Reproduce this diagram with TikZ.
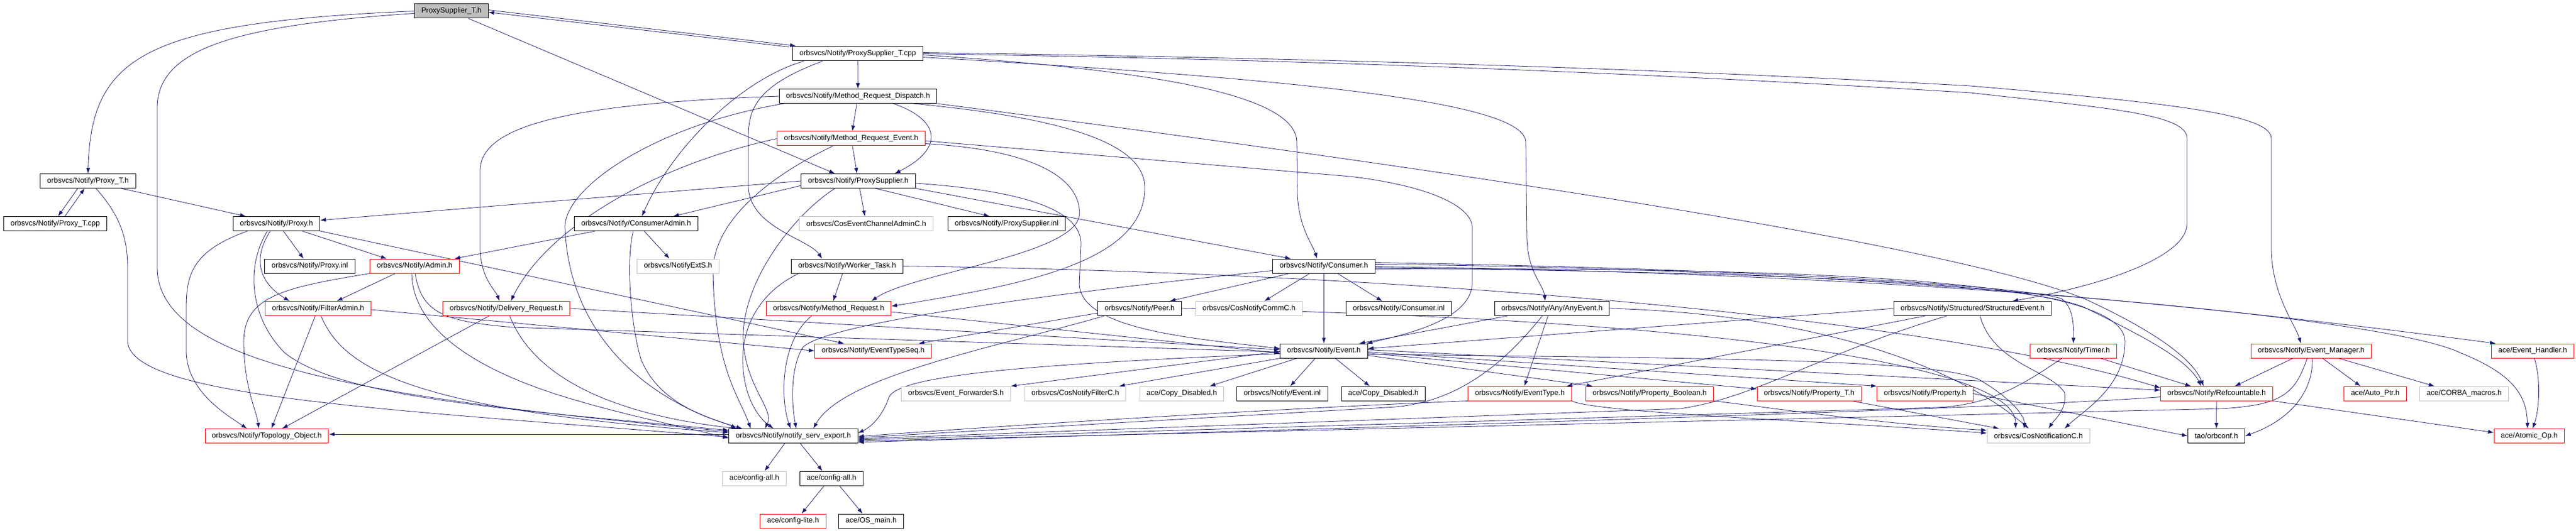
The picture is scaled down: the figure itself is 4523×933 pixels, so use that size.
\documentclass[tikz,border=0pt]{standalone}
\usepackage{fontspec}
\setmainfont{Liberation Sans}
\usetikzlibrary{arrows.meta,backgrounds}
\definecolor{midnightblue}{RGB}{25,25,112}
\definecolor{grey75}{RGB}{191,191,191}
\tikzset{
  file/.style={draw=black, fill=white, line width=1pt, minimum height=25pt, inner xsep=12pt, inner ysep=0pt, font=\fontsize{13pt}{15pt}\selectfont},
  trunc/.style={file, draw=red},
  extfile/.style={file, draw=grey75},
  mainfile/.style={file, fill=grey75},
  dep/.style={draw=midnightblue, line width=0.8pt, -{Latex[length=10pt,width=7pt]}}
}
\begin{document}
\begin{tikzpicture}[x=1pt,y=-1pt]
\useasboundingbox (0,0) rectangle (4523,933);
\node[mainfile] (pst) at (792.5,19.5) {ProxySupplier\_T.h};
\node[file] (pstcpp) at (1506,94.5) {orbsvcs/Notify/ProxySupplier\_T.cpp};
\node[file] (mrd) at (1506.5,169) {orbsvcs/Notify/Method\_Request\_Dispatch.h};
\node[trunc] (mre) at (1494.5,243.5) {orbsvcs/Notify/Method\_Request\_Event.h};
\node[file] (proxyT) at (154.5,318) {orbsvcs/Notify/Proxy\_T.h};
\node[file] (psup) at (1507,318) {orbsvcs/Notify/ProxySupplier.h};
\node[file] (proxyTcpp) at (97,393) {orbsvcs/Notify/Proxy\_T.cpp};
\node[file] (proxy) at (485.5,393) {orbsvcs/Notify/Proxy.h};
\node[file] (cadmin) at (1117,393) {orbsvcs/Notify/ConsumerAdmin.h};
\node[extfile] (cosecac) at (1521,393) {orbsvcs/CosEventChannelAdminC.h};
\node[file] (psupinl) at (1767.5,393) {orbsvcs/Notify/ProxySupplier.inl};
\node[file] (proxyinl) at (544,467.5) {orbsvcs/Notify/Proxy.inl};
\node[trunc] (admin) at (728,467.5) {orbsvcs/Notify/Admin.h};
\node[extfile] (extS) at (1190.5,467.5) {orbsvcs/NotifyExtS.h};
\node[file] (worker) at (1487.5,467.5) {orbsvcs/Notify/Worker\_Task.h};
\node[file] (consumer) at (2324.5,467.5) {orbsvcs/Notify/Consumer.h};
\node[trunc] (filteradmin) at (558.5,542) {orbsvcs/Notify/FilterAdmin.h};
\node[trunc] (delivery) at (889,542) {orbsvcs/Notify/Delivery\_Request.h};
\node[trunc] (mreq) at (1455,542) {orbsvcs/Notify/Method\_Request.h};
\node[file] (peer) at (2001,542) {orbsvcs/Notify/Peer.h};
\node[extfile] (commC) at (2193,542) {orbsvcs/CosNotifyCommC.h};
\node[file] (consinl) at (2456,542) {orbsvcs/Notify/Consumer.inl};
\node[file] (anyevent) at (2725,542) {orbsvcs/Notify/Any/AnyEvent.h};
\node[file] (structevent) at (3463.5,542) {orbsvcs/Notify/Structured/StructuredEvent.h};
\node[trunc] (typeseq) at (1533,616.5) {orbsvcs/Notify/EventTypeSeq.h};
\node[file] (event) at (2324.5,616.5) {orbsvcs/Notify/Event.h};
\node[trunc] (timer) at (3640.5,616.5) {orbsvcs/Notify/Timer.h};
\node[trunc] (evmgr) at (4058,616.5) {orbsvcs/Notify/Event\_Manager.h};
\node[trunc] (evhandler) at (4447,616.5) {ace/Event\_Handler.h};
\node[extfile] (forwarderS) at (1678.5,691.5) {orbsvcs/Event\_ForwarderS.h};
\node[extfile] (filterC) at (1888,691.5) {orbsvcs/CosNotifyFilterC.h};
\node[extfile] (copyA) at (2075,691.5) {ace/Copy\_Disabled.h};
\node[file] (eventinl) at (2251.5,691.5) {orbsvcs/Notify/Event.inl};
\node[file] (copyB) at (2429,691.5) {ace/Copy\_Disabled.h};
\node[trunc] (evtype) at (2668.5,691.5) {orbsvcs/Notify/EventType.h};
\node[trunc] (propbool) at (2896.5,691.5) {orbsvcs/Notify/Property\_Boolean.h};
\node[trunc] (propT) at (3176.5,691.5) {orbsvcs/Notify/Property\_T.h};
\node[trunc] (prop) at (3380,691.5) {orbsvcs/Notify/Property.h};
\node[trunc] (refcount) at (3892,691.5) {orbsvcs/Notify/Refcountable.h};
\node[trunc] (autoptr) at (4170.5,691.5) {ace/Auto\_Ptr.h};
\node[extfile] (corbamac) at (4326.5,691.5) {ace/CORBA\_macros.h};
\node[trunc] (topo) at (468.5,766) {orbsvcs/Notify/Topology\_Object.h};
\node[file] (servexp) at (1393,766) {orbsvcs/Notify/notify\_serv\_export.h};
\node[extfile] (notifC) at (3579,766) {orbsvcs/CosNotificationC.h};
\node[file] (orbconf) at (3891.5,766) {tao/orbconf.h};
\node[trunc] (atomic) at (4441,766) {ace/Atomic\_Op.h};
\node[extfile] (cfgA) at (1324.5,840.5) {ace/config-all.h};
\node[file] (cfgB) at (1460,840.5) {ace/config-all.h};
\node[trunc] (cfglite) at (1392.5,915.5) {ace/config-lite.h};
\node[file] (osmain) at (1529.5,915.5) {ace/OS\_main.h};
\begin{scope}[on background layer]
\fill[white] (0,0) rectangle (4523,933);
\draw[dep] (pst.west) .. controls (250,40) and (160,100) .. (proxyT.north);
\draw[dep] ([yshift=-4pt]pst.west) .. controls (400,45) and (276,90) .. (276,190) -- (276,470) .. controls (276,640) and (650,700) .. ([yshift=8pt]servexp.west);
\draw[dep] ([yshift=2pt]pst.east) -- ([xshift=6pt,yshift=1pt]pstcpp.north west);
\draw[dep] ([xshift=-6pt,yshift=-1pt]pstcpp.north west) -- ([yshift=-2pt]pst.east);
\draw[dep] ([xshift=30pt]pst.south) -- ([xshift=-41pt]psup.north);
\draw[dep] (pstcpp) -- (mrd);
\draw[dep] ([xshift=-95pt]pstcpp.south) .. controls (1300,140) and (1180,260) .. ([xshift=10pt]cadmin.north);
\draw[dep] ([xshift=-62pt]pstcpp.south) .. controls (1330,150) and (1314,190) .. (1314,240) -- (1314,330) .. controls (1318,400) and (1420,420) .. ([xshift=-44pt]worker.north);
\draw[dep] ([yshift=-2pt]pstcpp.east) .. controls (2050,125) and (2277,170) .. (2277,250) -- (2278,340) .. controls (2280,400) and (2305,430) .. ([xshift=-12pt]consumer.north);
\draw[dep] ([yshift=-6pt]pstcpp.east) .. controls (2300,140) and (2679,180) .. (2679,250) -- (2681,420) .. controls (2683,480) and (2710,500) .. ([xshift=-12pt]anyevent.north);
\draw[dep] ([yshift=2pt]pstcpp.east) .. controls (2400,103) and (3000,125) .. (3460,151) .. controls (3800,180) and (3988,200) .. (3988,243) -- (3988,440) .. controls (3990,520) and (4030,570) .. ([xshift=-18pt]evmgr.north);
\draw[dep] (pstcpp.east) .. controls (2400,106) and (3000,135) .. (3460,163) .. controls (3700,190) and (3840,200) .. (3840,243) -- (3840,393) .. controls (3840,450) and (3700,500) .. ([xshift=70pt]structevent.north);
\draw[dep] ([xshift=-18pt]proxyT.south) -- ([xshift=5pt]proxyTcpp.north);
\draw[dep] ([xshift=17pt]proxyTcpp.north) -- ([xshift=-6pt]proxyT.south);
\draw[dep] (proxyT) -- ([xshift=-54pt]proxy.north);
\draw[dep] ([xshift=14pt]proxyT.south) .. controls (212,380) and (224,420) .. (224,470) -- (224,600) .. controls (230,700) and (700,720) .. ([yshift=-2pt]servexp.west);
\draw[dep] (mrd) -- (mre);
\draw[dep] ([xshift=62pt]mrd.south) .. controls (1650,210) and (1660,260) .. ([xshift=64pt]psup.north);
\draw[dep] (mrd.west) .. controls (1000,182) and (843,220) .. (843,300) -- (843,440) .. controls (845,490) and (870,510) .. ([xshift=-12pt]delivery.north);
\draw[dep] ([xshift=-130pt]mrd.south) .. controls (1150,220) and (990,330) .. (992,400) .. controls (1000,600) and (1150,710) .. ([xshift=-90pt]servexp.north);
\draw[dep] ([xshift=97pt]mrd.south) .. controls (1900,210) and (2010,260) .. (2010,330) .. controls (2010,460) and (1800,500) .. ([yshift=4pt]mreq.east);
\draw[dep] (mrd.south east) .. controls (2400,280) and (3400,420) .. (3660,525) .. controls (3780,580) and (3850,630) .. ([xshift=-23pt]refcount.north);
\draw[dep] (mre) -- (psup);
\draw[dep] (mre.west) .. controls (1150,290) and (960,400) .. ([xshift=8pt]delivery.north);
\draw[dep] ([xshift=-32pt]mre.south) .. controls (1330,320) and (1250,400) .. (1252,480) .. controls (1255,650) and (1300,700) .. ([xshift=-75pt]servexp.north);
\draw[dep] ([yshift=-9pt]mre.east) .. controls (1850,265) and (1900,330) .. (1895,380) .. controls (1880,450) and (1600,480) .. ([xshift=75pt]mreq.north);
\draw[dep] ([yshift=-4pt]mre.east) -- (2370,310) .. controls (2500,325) and (2585,360) .. (2585,400) -- (2585,500) .. controls (2580,560) and (2480,585) .. ([xshift=75pt]event.north);
\draw[dep] (psup.west) -- ([yshift=6pt]proxy.east);
\draw[dep] ([yshift=-8pt]psup.west) -- ([xshift=65pt]cadmin.north);
\draw[dep] ([xshift=-41pt]psup.south) .. controls (1390,380) and (1300,500) .. (1305,600) .. controls (1310,680) and (1360,720) .. ([xshift=-50pt]servexp.north);
\draw[dep] (psup) -- (cosecac);
\draw[dep] ([xshift=30pt]psup.south) -- ([xshift=-30pt]psupinl.north);
\draw[dep] (psup.south east) -- ([xshift=-58pt]consumer.north);
\draw[dep] ([yshift=-4pt]psup.east) .. controls (1800,335) and (1900,370) .. (1898,430) -- (1895,500) .. controls (1900,580) and (2100,595) .. ([yshift=4pt]event.west);
\draw[dep] ([xshift=-72pt]cadmin.south) -- ([xshift=70pt]admin.north);
\draw[dep] ([xshift=14pt]cadmin.south) -- ([xshift=-15pt]extS.north);
\draw[dep] ([xshift=-5pt]cadmin.south) .. controls (1100,450) and (1105,560) .. (1125,630) .. controls (1160,720) and (1270,740) .. ([xshift=-100pt]servexp.north);
\draw[dep] ([xshift=12pt]proxy.south) -- ([xshift=-11pt]proxyinl.north);
\draw[dep] ([xshift=45pt]proxy.south) -- ([xshift=-49pt]admin.north);
\draw[dep] ([xshift=-11pt]proxy.south) .. controls (440,460) and (460,500) .. ([xshift=-50pt]filteradmin.north);
\draw[dep] ([xshift=-51pt]proxy.south) .. controls (340,440) and (327,480) .. (327,540) -- (327,620) .. controls (330,690) and (400,730) .. ([xshift=-35pt]topo.north);
\draw[dep] ([xshift=-16pt]proxy.south) .. controls (430,470) and (440,560) .. (500,620) .. controls (600,700) and (900,720) .. ([yshift=10pt]servexp.west);
\draw[dep] (proxy.south east) -- ([xshift=-51pt]typeseq.north);
\draw[dep] (admin.south west) .. controls (500,505) and (428,520) .. (428,600) .. controls (428,680) and (450,720) .. ([xshift=-14pt]topo.north);
\draw[dep] ([xshift=-34pt]admin.south) -- ([xshift=33pt]filteradmin.north);
\draw[dep] ([xshift=-5pt]admin.south) .. controls (724,560) and (800,640) .. (1000,700) .. controls (1100,730) and (1200,750) .. ([yshift=-4pt]servexp.west);
\draw[dep] ([xshift=1pt]admin.south) .. controls (740,550) and (780,565) .. (900,575) -- ([yshift=-2pt]event.west);
\draw[dep] ([xshift=-5pt]filteradmin.south) -- ([xshift=8pt]topo.north);
\draw[dep] ([xshift=5pt]filteradmin.south) .. controls (600,640) and (700,720) .. ([yshift=6pt]servexp.west);
\draw[dep] ([yshift=-2pt]filteradmin.east) -- (typeseq.west);
\draw[dep] ([xshift=-30pt]delivery.south) -- ([xshift=27pt]topo.north);
\draw[dep] ([xshift=6pt]delivery.south) .. controls (920,620) and (1000,720) .. ([xshift=15pt]servexp.north west);
\draw[dep] (delivery.east) -- ([yshift=2pt]event.west);
\draw[dep] ([xshift=-8pt]worker.south) -- ([xshift=8pt]mreq.north);
\draw[dep] ([xshift=-85pt]worker.south) .. controls (1320,520) and (1290,600) .. (1310,680) .. controls (1320,720) and (1340,740) .. ([xshift=-35pt]servexp.north);
\draw[dep] (worker.east) .. controls (2500,480) and (3400,560) .. ([yshift=10pt]refcount.west);
\draw[dep] ([xshift=-30pt]mreq.south) .. controls (1370,600) and (1370,700) .. ([xshift=-5pt]servexp.north);
\draw[dep] ([yshift=-6pt]mreq.east) -- ([yshift=-4pt]event.west);
\draw[dep] ([yshift=-8pt]peer.west) -- ([xshift=80pt]typeseq.north);
\draw[dep] ([xshift=-62pt]peer.south) .. controls (1750,610) and (1480,660) .. ([xshift=35pt]servexp.north);
\draw[dep] (peer.east) .. controls (3000,560) and (3540,640) .. ([xshift=-40pt]notifC.north);
\draw[dep] ([xshift=-60pt]consumer.south) -- ([xshift=53pt]peer.north);
\draw[dep] ([xshift=-25pt]consumer.south) -- ([xshift=27pt]commC.north);
\draw[dep] (consumer) -- (event);
\draw[dep] ([xshift=24pt]consumer.south) -- ([xshift=-29pt]consinl.north);
\draw[dep] ([yshift=-8pt]consumer.west) .. controls (1800,520) and (1450,570) .. (1410,610) .. controls (1390,640) and (1388,700) .. ([xshift=5pt]servexp.north);
\draw[dep] ([yshift=6pt]consumer.east) .. controls (3000,470) and (3550,500) .. (3620,525) .. controls (3640,540) and (3641,570) .. (timer.north);
\draw[dep] ([yshift=3pt]consumer.east) .. controls (3000,470) and (3600,500) .. ([xshift=-65pt]evhandler.north);
\draw[dep] ([yshift=-1pt]consumer.east) .. controls (3400,480) and (4200,560) .. (4320,620) .. controls (4420,660) and (4436,700) .. ([xshift=-3pt]atomic.north);
\draw[dep] ([yshift=-3pt]consumer.east) .. controls (3200,480) and (3560,500) .. (3660,540) .. controls (3760,590) and (3840,630) .. ([xshift=-27pt]refcount.north);
\draw[dep] ([yshift=-5pt]consumer.east) .. controls (3200,470) and (3731,490) .. (3731,600) .. controls (3731,680) and (3660,720) .. ([xshift=46pt]notifC.north);
\draw[dep] ([xshift=-78pt]anyevent.south) -- ([xshift=62pt]event.north);
\draw[dep] ([xshift=-7pt]anyevent.south) -- ([xshift=8pt]evtype.north);
\draw[dep] ([xshift=-17pt]anyevent.south) .. controls (2640,640) and (2560,705) .. (2450,715) -- ([yshift=-3pt]servexp.east);
\draw[dep] (anyevent.east) .. controls (3150,550) and (3420,630) .. ([xshift=-17pt]notifC.north);
\draw[dep] (structevent.west) -- ([yshift=4pt]event.east);
\draw[dep] ([xshift=-83pt]structevent.south) -- ([xshift=82pt]evtype.north);
\draw[dep] ([xshift=-45pt]structevent.south) .. controls (3200,620) and (3080,700) .. (2950,718) -- ([yshift=-5pt]servexp.east);
\draw[dep] ([xshift=13pt]structevent.south) .. controls (3500,640) and (3600,650) .. (3625,690) .. controls (3630,720) and (3605,740) .. ([xshift=18pt]notifC.north);
\draw[dep] ([yshift=-1pt]event.west) -- (forwarderS.north east);
\draw[dep] (event.south west) -- ([xshift=77pt]filterC.north);
\draw[dep] ([xshift=-47pt]event.south) -- ([xshift=49pt]copyA.north);
\draw[dep] ([xshift=-15pt]event.south) -- ([xshift=14pt]eventinl.north);
\draw[dep] ([xshift=20pt]event.south) -- ([xshift=-24pt]copyB.north);
\draw[dep] ([yshift=-8pt]event.east) -- ([xshift=-100pt]propbool.north);
\draw[dep] ([yshift=-4pt]event.east) -- ([yshift=8pt]propT.west);
\draw[dep] ([yshift=-2pt]event.east) -- (prop.north west);
\draw[dep] ([yshift=2pt]event.east) -- ([yshift=6pt]refcount.west);
\draw[dep] ([yshift=-6pt]event.east) .. controls (3000,630) and (3420,630) .. (3480,670) .. controls (3530,700) and (3555,730) .. ([xshift=-25pt]notifC.north);
\draw[dep] ([yshift=-5pt]event.west) .. controls (1800,640) and (1570,660) .. (1560,700) .. controls (1550,730) and (1530,750) .. ([yshift=5pt]servexp.east);
\draw[dep] (evtype.south west) .. controls (2300,715) and (1800,745) .. ([yshift=-1pt]servexp.east);
\draw[dep] (evtype.south east) .. controls (2800,725) and (3200,740) .. ([yshift=5pt]notifC.west);
\draw[dep] (propbool.south east) .. controls (3100,715) and (3300,745) .. ([yshift=10pt]notifC.west);
\draw[dep] ([xshift=75pt]propT.south) -- ([xshift=-69pt]notifC.north);
\draw[dep] (prop.east) -- (orbconf.west);
\draw[dep] ([xshift=47pt]timer.south) -- ([xshift=-45pt]refcount.north);
\draw[dep] ([xshift=-20pt]timer.south) .. controls (3560,670) and (3500,712) .. (3400,716) -- ([yshift=-7pt]servexp.east);
\draw[dep] ([xshift=-32pt]evmgr.south) -- ([xshift=32pt]refcount.north);
\draw[dep] ([xshift=2pt]evmgr.south) .. controls (4062,680) and (4030,735) .. (orbconf.east);
\draw[dep] ([xshift=-7pt]evmgr.south) .. controls (4030,690) and (4010,712) .. (3900,718) -- ([yshift=-9pt]servexp.east);
\draw[dep] ([xshift=20pt]evmgr.south) -- ([xshift=-26pt]autoptr.north);
\draw[dep] ([xshift=48pt]evmgr.south) -- ([xshift=-52pt]corbamac.north);
\draw[dep] ([xshift=3pt]evhandler.south) .. controls (4462,670) and (4458,720) .. ([xshift=6pt]atomic.north);
\draw[dep] (refcount) -- (orbconf);
\draw[dep] (refcount.south east) -- ([yshift=6pt]atomic.west);
\draw[dep] ([yshift=-6pt]refcount.west) .. controls (3600,712) and (3000,735) .. ([yshift=-11pt]servexp.east);
\draw[dep] ([yshift=3pt]servexp.west) -- ([yshift=3pt]topo.east);
\draw[dep] ([xshift=-15pt]servexp.south) -- ([xshift=18pt]cfgA.north);
\draw[dep] ([xshift=12pt]servexp.south) -- ([xshift=-16pt]cfgB.north);
\draw[dep] ([xshift=-13pt]cfgB.south) -- ([xshift=15pt]cfglite.north);
\draw[dep] ([xshift=14pt]cfgB.south) -- ([xshift=-15pt]osmain.north);
\end{scope}
\end{tikzpicture}
\end{document}
